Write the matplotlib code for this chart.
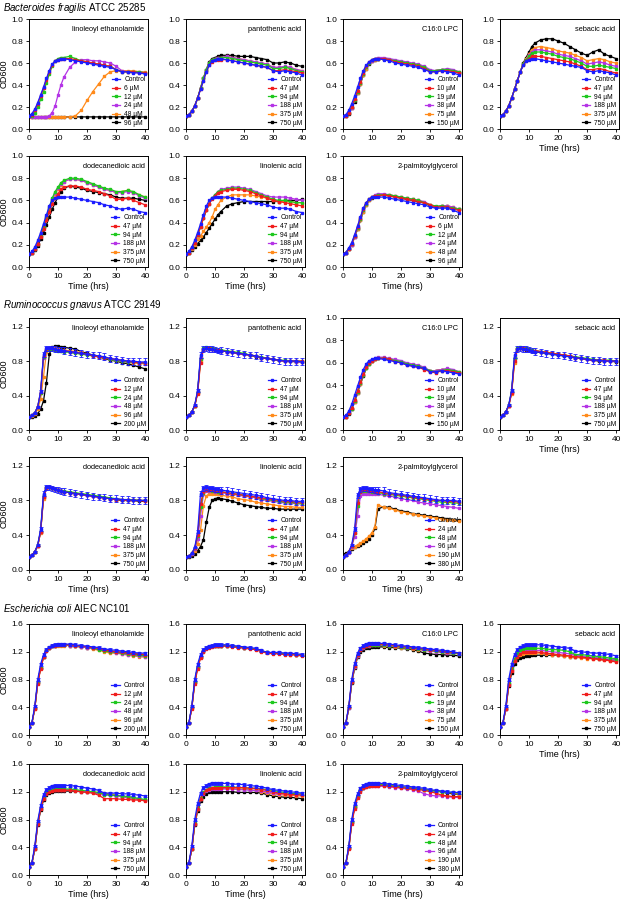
import matplotlib
matplotlib.use("Agg")
import matplotlib.pyplot as plt

plt.rcParams["font.family"] = ["Liberation Sans", "DejaVu Sans"]
plt.rcParams["mathtext.fontset"] = "custom"
plt.rcParams["mathtext.rm"] = "Liberation Sans"
plt.rcParams["mathtext.it"] = "Liberation Sans:italic"

# sampling times (hrs)
t = [0, 1, 2, 3, 4, 5, 6, 7, 8, 9, 10, 11, 12,
     14, 16, 18, 20, 22, 24, 26, 28, 30, 32, 34, 36, 38, 40]

# concentration labels
lab_lea_bf = ["Control", "6 µM", "12 µM", "24 µM", "48 µM", "96 µM"]
lab_lea = ["Control", "12 µM", "24 µM", "48 µM", "96 µM", "200 µM"]
lab_acid = ["Control", "47 µM", "94 µM", "188 µM", "375 µM", "750 µM"]
lab_lpc = ["Control", "10 µM", "19 µM", "38 µM", "75 µM", "150 µM"]
lab_pg_bf = lab_lea_bf
lab_pg = ["Control", "24 µM", "48 µM", "96 µM", "190 µM", "380 µM"]

# ---- Bacteroides fragilis ----
bf_lea = [
    [0.12, 0.14, 0.18, 0.24, 0.31, 0.38, 0.46, 0.53, 0.59, 0.62, 0.63, 0.64, 0.64,
     0.63, 0.62, 0.61, 0.60, 0.59, 0.58, 0.57, 0.56, 0.54, 0.52, 0.52, 0.51, 0.51, 0.50],
    [0.12, 0.13, 0.17, 0.23, 0.30, 0.37, 0.45, 0.52, 0.58, 0.62, 0.63, 0.64, 0.64,
     0.64, 0.63, 0.62, 0.61, 0.60, 0.59, 0.58, 0.57, 0.54, 0.52, 0.52, 0.52, 0.51, 0.51],
    [0.12, 0.12, 0.15, 0.20, 0.27, 0.34, 0.42, 0.50, 0.57, 0.62, 0.64, 0.65, 0.65,
     0.66, 0.64, 0.62, 0.61, 0.60, 0.59, 0.58, 0.57, 0.54, 0.52, 0.52, 0.52, 0.52, 0.51],
    [0.12, 0.11, 0.11, 0.11, 0.11, 0.11, 0.11, 0.12, 0.15, 0.21, 0.31, 0.40, 0.47,
     0.56, 0.61, 0.63, 0.63, 0.62, 0.62, 0.61, 0.60, 0.57, 0.53, 0.52, 0.52, 0.52, 0.51],
    [0.11, 0.11, 0.11, 0.11, 0.11, 0.11, 0.11, 0.11, 0.11, 0.11, 0.11, 0.11, 0.11,
     0.11, 0.12, 0.17, 0.26, 0.34, 0.41, 0.48, 0.52, 0.53, 0.53, 0.53, 0.53, 0.52, 0.52],
    [0.12, 0.11, 0.11, 0.11, 0.11, 0.11, 0.11, 0.11, 0.11, 0.11, 0.11, 0.11, 0.11,
     0.11, 0.11, 0.11, 0.11, 0.11, 0.11, 0.11, 0.11, 0.11, 0.11, 0.11, 0.11, 0.11, 0.11],
]
bf_pan = [
    [0.12, 0.13, 0.16, 0.21, 0.28, 0.36, 0.44, 0.52, 0.58, 0.62, 0.63, 0.64, 0.64,
     0.63, 0.62, 0.61, 0.60, 0.59, 0.58, 0.57, 0.56, 0.53, 0.52, 0.53, 0.52, 0.51, 0.49],
    [0.12, 0.13, 0.16, 0.21, 0.28, 0.36, 0.44, 0.52, 0.58, 0.61, 0.63, 0.63, 0.63,
     0.63, 0.62, 0.61, 0.60, 0.59, 0.58, 0.57, 0.56, 0.53, 0.53, 0.54, 0.53, 0.52, 0.51],
    [0.12, 0.13, 0.16, 0.21, 0.28, 0.37, 0.46, 0.54, 0.60, 0.63, 0.64, 0.64, 0.65,
     0.65, 0.64, 0.63, 0.62, 0.61, 0.60, 0.59, 0.58, 0.55, 0.55, 0.56, 0.55, 0.53, 0.52],
    [0.12, 0.13, 0.16, 0.21, 0.28, 0.37, 0.46, 0.54, 0.60, 0.63, 0.64, 0.65, 0.65,
     0.66, 0.65, 0.64, 0.63, 0.62, 0.61, 0.60, 0.59, 0.56, 0.56, 0.57, 0.56, 0.54, 0.53],
    [0.12, 0.13, 0.16, 0.21, 0.28, 0.37, 0.46, 0.54, 0.60, 0.63, 0.64, 0.65, 0.65,
     0.66, 0.65, 0.64, 0.63, 0.62, 0.61, 0.60, 0.59, 0.56, 0.56, 0.56, 0.56, 0.54, 0.53],
    [0.12, 0.13, 0.16, 0.21, 0.28, 0.37, 0.46, 0.54, 0.61, 0.64, 0.65, 0.66, 0.67,
     0.67, 0.67, 0.66, 0.66, 0.66, 0.65, 0.64, 0.63, 0.60, 0.60, 0.61, 0.60, 0.58, 0.57],
]
bf_lpc = [
    [0.12, 0.13, 0.17, 0.23, 0.30, 0.38, 0.46, 0.53, 0.58, 0.61, 0.63, 0.64, 0.64,
     0.63, 0.62, 0.60, 0.59, 0.58, 0.57, 0.56, 0.54, 0.52, 0.52, 0.53, 0.52, 0.51, 0.49],
    [0.12, 0.12, 0.15, 0.20, 0.27, 0.35, 0.43, 0.51, 0.57, 0.61, 0.63, 0.64, 0.64,
     0.64, 0.63, 0.61, 0.60, 0.59, 0.58, 0.57, 0.55, 0.52, 0.52, 0.53, 0.53, 0.52, 0.51],
    [0.12, 0.12, 0.15, 0.20, 0.26, 0.34, 0.42, 0.50, 0.56, 0.60, 0.63, 0.64, 0.64,
     0.64, 0.63, 0.62, 0.61, 0.60, 0.59, 0.58, 0.56, 0.53, 0.53, 0.54, 0.54, 0.53, 0.52],
    [0.12, 0.12, 0.15, 0.19, 0.26, 0.34, 0.42, 0.50, 0.56, 0.60, 0.62, 0.64, 0.65,
     0.65, 0.64, 0.63, 0.62, 0.61, 0.60, 0.59, 0.57, 0.54, 0.53, 0.54, 0.55, 0.54, 0.52],
    [0.12, 0.12, 0.15, 0.19, 0.26, 0.33, 0.41, 0.49, 0.55, 0.60, 0.62, 0.63, 0.64,
     0.64, 0.63, 0.62, 0.61, 0.60, 0.59, 0.58, 0.56, 0.53, 0.53, 0.54, 0.54, 0.53, 0.52],
    [0.12, 0.12, 0.14, 0.19, 0.25, 0.33, 0.41, 0.49, 0.55, 0.59, 0.62, 0.63, 0.64,
     0.64, 0.63, 0.62, 0.61, 0.60, 0.59, 0.58, 0.56, 0.53, 0.53, 0.54, 0.54, 0.53, 0.51],
]
bf_seb = [
    [0.12, 0.13, 0.16, 0.21, 0.28, 0.36, 0.44, 0.52, 0.58, 0.62, 0.63, 0.64, 0.64,
     0.63, 0.62, 0.61, 0.60, 0.59, 0.58, 0.57, 0.56, 0.53, 0.52, 0.53, 0.52, 0.51, 0.49],
    [0.12, 0.13, 0.16, 0.21, 0.28, 0.36, 0.44, 0.52, 0.58, 0.62, 0.64, 0.66, 0.66,
     0.66, 0.65, 0.64, 0.63, 0.62, 0.61, 0.59, 0.57, 0.54, 0.54, 0.55, 0.54, 0.52, 0.51],
    [0.12, 0.13, 0.16, 0.21, 0.28, 0.36, 0.44, 0.52, 0.59, 0.63, 0.66, 0.69, 0.70,
     0.70, 0.69, 0.68, 0.66, 0.65, 0.64, 0.62, 0.60, 0.57, 0.57, 0.58, 0.57, 0.56, 0.55],
    [0.12, 0.13, 0.16, 0.21, 0.28, 0.36, 0.44, 0.52, 0.59, 0.63, 0.67, 0.70, 0.72,
     0.72, 0.71, 0.70, 0.68, 0.67, 0.66, 0.64, 0.62, 0.59, 0.60, 0.61, 0.60, 0.58, 0.57],
    [0.12, 0.13, 0.16, 0.21, 0.28, 0.36, 0.44, 0.52, 0.59, 0.64, 0.68, 0.72, 0.74,
     0.75, 0.74, 0.73, 0.71, 0.70, 0.69, 0.67, 0.65, 0.62, 0.63, 0.64, 0.63, 0.61, 0.60],
    [0.12, 0.13, 0.16, 0.21, 0.28, 0.36, 0.44, 0.52, 0.60, 0.65, 0.70, 0.75, 0.78,
     0.81, 0.82, 0.82, 0.80, 0.78, 0.75, 0.72, 0.69, 0.67, 0.70, 0.72, 0.68, 0.66, 0.64],
]
bf_dod = [
    [0.12, 0.14, 0.18, 0.24, 0.31, 0.39, 0.47, 0.55, 0.60, 0.62, 0.63, 0.63, 0.63,
     0.63, 0.62, 0.61, 0.60, 0.59, 0.58, 0.56, 0.55, 0.53, 0.52, 0.53, 0.52, 0.50, 0.49],
    [0.12, 0.13, 0.16, 0.21, 0.27, 0.34, 0.42, 0.50, 0.57, 0.62, 0.66, 0.70, 0.72,
     0.73, 0.73, 0.72, 0.70, 0.69, 0.68, 0.66, 0.64, 0.61, 0.61, 0.62, 0.60, 0.58, 0.56],
    [0.12, 0.13, 0.16, 0.21, 0.28, 0.36, 0.45, 0.54, 0.62, 0.68, 0.72, 0.76, 0.78,
     0.80, 0.80, 0.79, 0.77, 0.75, 0.73, 0.71, 0.70, 0.68, 0.68, 0.69, 0.68, 0.65, 0.63],
    [0.12, 0.13, 0.16, 0.21, 0.28, 0.36, 0.45, 0.53, 0.61, 0.67, 0.71, 0.75, 0.77,
     0.79, 0.79, 0.78, 0.76, 0.74, 0.72, 0.70, 0.69, 0.67, 0.67, 0.68, 0.67, 0.64, 0.62],
    [0.12, 0.13, 0.16, 0.21, 0.28, 0.36, 0.44, 0.52, 0.60, 0.66, 0.70, 0.74, 0.77,
     0.79, 0.79, 0.78, 0.76, 0.74, 0.72, 0.70, 0.69, 0.67, 0.68, 0.69, 0.67, 0.65, 0.63],
    [0.12, 0.13, 0.15, 0.19, 0.25, 0.31, 0.38, 0.45, 0.52, 0.58, 0.63, 0.68, 0.71,
     0.73, 0.72, 0.71, 0.69, 0.68, 0.67, 0.66, 0.65, 0.63, 0.62, 0.62, 0.62, 0.61, 0.60],
]
bf_lin = [
    [0.12, 0.14, 0.18, 0.24, 0.31, 0.39, 0.47, 0.55, 0.60, 0.62, 0.63, 0.63, 0.63,
     0.63, 0.62, 0.61, 0.60, 0.59, 0.58, 0.57, 0.56, 0.54, 0.53, 0.53, 0.52, 0.50, 0.49],
    [0.12, 0.13, 0.17, 0.22, 0.29, 0.36, 0.44, 0.51, 0.57, 0.61, 0.64, 0.67, 0.68,
     0.69, 0.70, 0.70, 0.69, 0.68, 0.66, 0.64, 0.62, 0.60, 0.59, 0.58, 0.57, 0.56, 0.55],
    [0.12, 0.13, 0.17, 0.22, 0.29, 0.36, 0.44, 0.51, 0.57, 0.62, 0.65, 0.68, 0.69,
     0.70, 0.71, 0.71, 0.70, 0.69, 0.67, 0.65, 0.63, 0.61, 0.60, 0.60, 0.59, 0.58, 0.58],
    [0.12, 0.13, 0.17, 0.22, 0.29, 0.36, 0.44, 0.51, 0.57, 0.62, 0.65, 0.68, 0.70,
     0.71, 0.72, 0.72, 0.71, 0.70, 0.68, 0.66, 0.64, 0.63, 0.63, 0.63, 0.62, 0.61, 0.60],
    [0.12, 0.13, 0.16, 0.20, 0.25, 0.28, 0.32, 0.36, 0.40, 0.45, 0.52, 0.56, 0.60,
     0.63, 0.65, 0.65, 0.65, 0.65, 0.64, 0.63, 0.62, 0.60, 0.59, 0.59, 0.59, 0.58, 0.58],
    [0.12, 0.13, 0.15, 0.18, 0.21, 0.24, 0.27, 0.31, 0.35, 0.39, 0.43, 0.47, 0.50,
     0.55, 0.57, 0.58, 0.59, 0.59, 0.59, 0.59, 0.59, 0.59, 0.59, 0.60, 0.60, 0.60, 0.61],
]
bf_pg = [
    [0.12, 0.13, 0.17, 0.22, 0.29, 0.37, 0.45, 0.53, 0.58, 0.61, 0.63, 0.63, 0.63,
     0.63, 0.62, 0.61, 0.60, 0.59, 0.58, 0.57, 0.56, 0.54, 0.53, 0.53, 0.53, 0.51, 0.49],
    [0.12, 0.13, 0.16, 0.21, 0.28, 0.36, 0.44, 0.52, 0.58, 0.61, 0.63, 0.64, 0.64,
     0.65, 0.64, 0.63, 0.62, 0.61, 0.60, 0.59, 0.58, 0.56, 0.54, 0.54, 0.54, 0.52, 0.51],
    [0.12, 0.13, 0.16, 0.21, 0.28, 0.35, 0.43, 0.51, 0.57, 0.61, 0.63, 0.64, 0.65,
     0.65, 0.65, 0.64, 0.63, 0.62, 0.61, 0.60, 0.58, 0.56, 0.55, 0.55, 0.54, 0.53, 0.52],
    [0.12, 0.13, 0.16, 0.20, 0.27, 0.35, 0.43, 0.51, 0.57, 0.61, 0.63, 0.65, 0.66,
     0.66, 0.65, 0.64, 0.63, 0.62, 0.61, 0.60, 0.59, 0.56, 0.54, 0.55, 0.55, 0.54, 0.52],
    [0.12, 0.13, 0.16, 0.20, 0.27, 0.34, 0.42, 0.50, 0.56, 0.60, 0.63, 0.64, 0.65,
     0.65, 0.65, 0.64, 0.63, 0.62, 0.61, 0.60, 0.58, 0.56, 0.54, 0.55, 0.55, 0.54, 0.52],
    [0.12, 0.13, 0.16, 0.20, 0.27, 0.34, 0.42, 0.50, 0.56, 0.60, 0.62, 0.64, 0.65,
     0.65, 0.64, 0.63, 0.62, 0.61, 0.60, 0.59, 0.58, 0.55, 0.54, 0.55, 0.55, 0.53, 0.52],
]

# ---- Ruminococcus gnavus ----
rg_lea = [
    [0.15, 0.17, 0.20, 0.27, 0.45, 0.88, 0.95, 0.95, 0.95, 0.94, 0.93, 0.93, 0.92,
     0.91, 0.90, 0.89, 0.88, 0.87, 0.86, 0.85, 0.83, 0.82, 0.81, 0.80, 0.80, 0.79, 0.79],
    [0.15, 0.17, 0.20, 0.27, 0.44, 0.86, 0.94, 0.95, 0.95, 0.94, 0.93, 0.93, 0.92,
     0.91, 0.90, 0.89, 0.88, 0.86, 0.85, 0.84, 0.83, 0.82, 0.81, 0.80, 0.79, 0.78, 0.78],
    [0.15, 0.17, 0.20, 0.27, 0.43, 0.85, 0.93, 0.94, 0.94, 0.93, 0.92, 0.92, 0.91,
     0.90, 0.89, 0.88, 0.87, 0.86, 0.85, 0.84, 0.82, 0.81, 0.80, 0.79, 0.79, 0.78, 0.78],
    [0.15, 0.17, 0.20, 0.27, 0.43, 0.84, 0.93, 0.94, 0.94, 0.93, 0.93, 0.92, 0.92,
     0.91, 0.90, 0.89, 0.88, 0.86, 0.85, 0.84, 0.82, 0.81, 0.80, 0.79, 0.79, 0.78, 0.77],
    [0.15, 0.16, 0.19, 0.24, 0.36, 0.62, 0.90, 0.95, 0.95, 0.95, 0.94, 0.93, 0.93,
     0.92, 0.91, 0.90, 0.88, 0.87, 0.86, 0.84, 0.82, 0.81, 0.80, 0.79, 0.78, 0.77, 0.77],
    [0.15, 0.15, 0.16, 0.19, 0.24, 0.34, 0.55, 0.88, 0.96, 0.97, 0.97, 0.96, 0.96,
     0.95, 0.94, 0.91, 0.89, 0.87, 0.85, 0.83, 0.81, 0.80, 0.78, 0.77, 0.75, 0.73, 0.71],
]
rg_pan = [
    [0.15, 0.17, 0.21, 0.29, 0.46, 0.87, 0.94, 0.95, 0.94, 0.94, 0.93, 0.92, 0.92,
     0.91, 0.90, 0.89, 0.88, 0.87, 0.86, 0.84, 0.83, 0.82, 0.81, 0.80, 0.80, 0.80, 0.79],
    [0.15, 0.17, 0.21, 0.28, 0.42, 0.78, 0.93, 0.95, 0.95, 0.94, 0.93, 0.93, 0.92,
     0.91, 0.90, 0.89, 0.88, 0.87, 0.86, 0.84, 0.83, 0.82, 0.81, 0.80, 0.80, 0.80, 0.80],
    [0.15, 0.17, 0.21, 0.28, 0.44, 0.82, 0.95, 0.96, 0.95, 0.95, 0.94, 0.93, 0.93,
     0.92, 0.91, 0.90, 0.89, 0.87, 0.86, 0.85, 0.83, 0.82, 0.81, 0.81, 0.80, 0.80, 0.80],
    [0.15, 0.17, 0.21, 0.28, 0.44, 0.83, 0.94, 0.95, 0.95, 0.94, 0.93, 0.93, 0.92,
     0.91, 0.90, 0.89, 0.88, 0.87, 0.86, 0.84, 0.83, 0.82, 0.81, 0.80, 0.80, 0.79, 0.79],
    [0.15, 0.17, 0.21, 0.28, 0.43, 0.80, 0.94, 0.95, 0.95, 0.94, 0.93, 0.93, 0.92,
     0.91, 0.90, 0.89, 0.88, 0.87, 0.86, 0.84, 0.83, 0.82, 0.81, 0.80, 0.80, 0.80, 0.79],
    [0.15, 0.17, 0.21, 0.28, 0.44, 0.84, 0.94, 0.95, 0.94, 0.94, 0.93, 0.92, 0.92,
     0.91, 0.90, 0.89, 0.88, 0.87, 0.85, 0.84, 0.83, 0.82, 0.81, 0.80, 0.80, 0.79, 0.79],
]
rg_lpc = [
    [0.12, 0.13, 0.17, 0.23, 0.31, 0.39, 0.47, 0.54, 0.59, 0.62, 0.63, 0.64, 0.64,
     0.63, 0.62, 0.61, 0.60, 0.58, 0.57, 0.56, 0.55, 0.52, 0.52, 0.53, 0.52, 0.51, 0.50],
    [0.12, 0.12, 0.15, 0.20, 0.27, 0.35, 0.43, 0.50, 0.56, 0.60, 0.62, 0.63, 0.64,
     0.64, 0.63, 0.61, 0.60, 0.58, 0.57, 0.56, 0.54, 0.52, 0.51, 0.53, 0.53, 0.52, 0.51],
    [0.12, 0.12, 0.15, 0.19, 0.26, 0.34, 0.42, 0.49, 0.55, 0.59, 0.62, 0.63, 0.64,
     0.64, 0.63, 0.62, 0.61, 0.59, 0.58, 0.57, 0.55, 0.53, 0.52, 0.53, 0.54, 0.53, 0.52],
    [0.12, 0.12, 0.15, 0.19, 0.26, 0.34, 0.42, 0.49, 0.56, 0.60, 0.62, 0.64, 0.65,
     0.65, 0.64, 0.63, 0.62, 0.60, 0.59, 0.58, 0.56, 0.53, 0.53, 0.54, 0.55, 0.54, 0.52],
    [0.12, 0.12, 0.15, 0.19, 0.25, 0.33, 0.41, 0.49, 0.55, 0.59, 0.62, 0.63, 0.64,
     0.64, 0.63, 0.62, 0.61, 0.59, 0.58, 0.57, 0.55, 0.53, 0.53, 0.54, 0.54, 0.53, 0.52],
    [0.12, 0.12, 0.14, 0.19, 0.25, 0.33, 0.41, 0.48, 0.55, 0.59, 0.62, 0.63, 0.64,
     0.64, 0.63, 0.62, 0.61, 0.59, 0.58, 0.57, 0.55, 0.53, 0.53, 0.54, 0.54, 0.53, 0.51],
]
rg_seb = [
    [0.15, 0.17, 0.21, 0.29, 0.46, 0.87, 0.94, 0.95, 0.94, 0.94, 0.93, 0.92, 0.91,
     0.90, 0.89, 0.88, 0.87, 0.86, 0.85, 0.84, 0.83, 0.82, 0.81, 0.81, 0.80, 0.80, 0.80],
    [0.15, 0.17, 0.21, 0.28, 0.43, 0.80, 0.94, 0.95, 0.95, 0.94, 0.93, 0.92, 0.92,
     0.91, 0.90, 0.89, 0.88, 0.87, 0.86, 0.84, 0.83, 0.82, 0.81, 0.81, 0.81, 0.80, 0.80],
    [0.15, 0.17, 0.21, 0.29, 0.45, 0.84, 0.95, 0.96, 0.95, 0.95, 0.94, 0.93, 0.92,
     0.91, 0.90, 0.89, 0.88, 0.87, 0.86, 0.85, 0.84, 0.83, 0.82, 0.81, 0.81, 0.81, 0.80],
    [0.15, 0.17, 0.21, 0.28, 0.44, 0.83, 0.94, 0.95, 0.95, 0.94, 0.93, 0.92, 0.92,
     0.91, 0.90, 0.89, 0.88, 0.87, 0.86, 0.84, 0.83, 0.82, 0.81, 0.81, 0.80, 0.80, 0.80],
    [0.15, 0.17, 0.21, 0.28, 0.42, 0.78, 0.93, 0.95, 0.94, 0.94, 0.93, 0.92, 0.92,
     0.91, 0.90, 0.89, 0.88, 0.87, 0.86, 0.84, 0.83, 0.82, 0.81, 0.81, 0.80, 0.80, 0.80],
    [0.15, 0.17, 0.21, 0.28, 0.44, 0.83, 0.94, 0.95, 0.94, 0.93, 0.93, 0.92, 0.91,
     0.90, 0.89, 0.88, 0.87, 0.86, 0.85, 0.84, 0.83, 0.82, 0.81, 0.80, 0.80, 0.80, 0.79],
]
rg_dod = [
    [0.15, 0.17, 0.21, 0.29, 0.47, 0.88, 0.95, 0.95, 0.94, 0.93, 0.92, 0.91, 0.90,
     0.89, 0.88, 0.87, 0.86, 0.85, 0.84, 0.83, 0.82, 0.82, 0.81, 0.81, 0.80, 0.80, 0.80],
    [0.15, 0.17, 0.21, 0.28, 0.44, 0.84, 0.94, 0.95, 0.94, 0.93, 0.92, 0.91, 0.90,
     0.89, 0.88, 0.87, 0.86, 0.85, 0.84, 0.83, 0.82, 0.81, 0.81, 0.80, 0.80, 0.80, 0.79],
    [0.15, 0.17, 0.21, 0.29, 0.45, 0.86, 0.95, 0.95, 0.94, 0.93, 0.92, 0.91, 0.91,
     0.90, 0.89, 0.88, 0.87, 0.86, 0.85, 0.84, 0.83, 0.82, 0.81, 0.81, 0.81, 0.80, 0.80],
    [0.15, 0.17, 0.21, 0.28, 0.44, 0.85, 0.94, 0.95, 0.94, 0.93, 0.92, 0.91, 0.90,
     0.89, 0.88, 0.87, 0.86, 0.85, 0.84, 0.83, 0.82, 0.82, 0.81, 0.81, 0.80, 0.80, 0.80],
    [0.15, 0.17, 0.21, 0.28, 0.43, 0.82, 0.94, 0.95, 0.94, 0.93, 0.92, 0.91, 0.90,
     0.89, 0.88, 0.87, 0.86, 0.85, 0.84, 0.83, 0.82, 0.81, 0.81, 0.80, 0.80, 0.80, 0.80],
    [0.15, 0.17, 0.21, 0.28, 0.44, 0.84, 0.94, 0.95, 0.94, 0.93, 0.92, 0.91, 0.90,
     0.89, 0.88, 0.87, 0.86, 0.85, 0.84, 0.83, 0.82, 0.81, 0.80, 0.80, 0.80, 0.79, 0.79],
]
rg_lin = [
    [0.15, 0.16, 0.19, 0.26, 0.44, 0.88, 0.94, 0.95, 0.94, 0.94, 0.93, 0.93, 0.92,
     0.91, 0.90, 0.89, 0.88, 0.87, 0.86, 0.85, 0.83, 0.82, 0.81, 0.80, 0.80, 0.79, 0.79],
    [0.15, 0.16, 0.19, 0.25, 0.40, 0.76, 0.90, 0.92, 0.92, 0.92, 0.91, 0.91, 0.90,
     0.89, 0.88, 0.87, 0.86, 0.85, 0.84, 0.83, 0.82, 0.81, 0.80, 0.79, 0.79, 0.78, 0.78],
    [0.15, 0.16, 0.19, 0.25, 0.39, 0.72, 0.89, 0.92, 0.92, 0.91, 0.91, 0.90, 0.90,
     0.89, 0.88, 0.87, 0.86, 0.85, 0.84, 0.82, 0.81, 0.80, 0.79, 0.78, 0.78, 0.77, 0.77],
    [0.15, 0.16, 0.18, 0.24, 0.36, 0.62, 0.87, 0.91, 0.91, 0.91, 0.90, 0.90, 0.89,
     0.88, 0.87, 0.86, 0.85, 0.84, 0.83, 0.81, 0.80, 0.79, 0.78, 0.77, 0.77, 0.76, 0.76],
    [0.15, 0.16, 0.18, 0.22, 0.30, 0.46, 0.74, 0.85, 0.88, 0.88, 0.87, 0.87, 0.86,
     0.85, 0.84, 0.82, 0.81, 0.80, 0.78, 0.77, 0.76, 0.75, 0.74, 0.73, 0.73, 0.72, 0.72],
    [0.15, 0.15, 0.16, 0.18, 0.22, 0.27, 0.35, 0.55, 0.72, 0.80, 0.82, 0.83, 0.82,
     0.81, 0.79, 0.77, 0.75, 0.74, 0.73, 0.72, 0.71, 0.71, 0.70, 0.70, 0.70, 0.70, 0.70],
]
rg_pg = [
    [0.15, 0.17, 0.21, 0.29, 0.47, 0.86, 0.93, 0.94, 0.94, 0.93, 0.93, 0.92, 0.92,
     0.91, 0.89, 0.88, 0.87, 0.86, 0.85, 0.84, 0.83, 0.82, 0.81, 0.80, 0.80, 0.80, 0.79],
    [0.15, 0.17, 0.21, 0.28, 0.43, 0.77, 0.90, 0.92, 0.92, 0.91, 0.91, 0.90, 0.90,
     0.89, 0.88, 0.87, 0.86, 0.85, 0.84, 0.83, 0.82, 0.81, 0.80, 0.80, 0.79, 0.79, 0.78],
    [0.15, 0.17, 0.21, 0.28, 0.42, 0.74, 0.90, 0.91, 0.91, 0.91, 0.90, 0.90, 0.89,
     0.88, 0.87, 0.86, 0.85, 0.84, 0.83, 0.82, 0.81, 0.80, 0.79, 0.78, 0.78, 0.77, 0.77],
    [0.15, 0.17, 0.20, 0.27, 0.38, 0.62, 0.85, 0.88, 0.88, 0.88, 0.88, 0.87, 0.87,
     0.86, 0.85, 0.84, 0.82, 0.81, 0.80, 0.78, 0.77, 0.76, 0.75, 0.74, 0.73, 0.72, 0.71],
    [0.15, 0.17, 0.22, 0.25, 0.27, 0.29, 0.31, 0.33, 0.36, 0.39, 0.43, 0.50, 0.75,
     0.72, 0.71, 0.69, 0.67, 0.66, 0.64, 0.63, 0.62, 0.61, 0.60, 0.59, 0.58, 0.57, 0.56],
    [0.18, 0.19, 0.21, 0.24, 0.26, 0.28, 0.29, 0.31, 0.33, 0.36, 0.40, 0.48, 0.70,
     0.73, 0.72, 0.70, 0.68, 0.67, 0.65, 0.64, 0.63, 0.62, 0.61, 0.60, 0.59, 0.58, 0.57],
]
# control SD for R. gnavus
rg_err = [0.00, 0.01, 0.01, 0.01, 0.02, 0.03, 0.03, 0.03, 0.03, 0.03, 0.03, 0.03, 0.04,
          0.04, 0.04, 0.04, 0.04, 0.04, 0.04, 0.04, 0.04, 0.04, 0.04, 0.04, 0.04, 0.04, 0.04]

# ---- Escherichia coli ----
ec_lea = [
    [0.12, 0.18, 0.42, 0.80, 1.02, 1.16, 1.23, 1.27, 1.29, 1.30, 1.31, 1.31, 1.31,
     1.31, 1.30, 1.29, 1.28, 1.27, 1.26, 1.24, 1.23, 1.22, 1.21, 1.20, 1.19, 1.18, 1.18],
    [0.12, 0.17, 0.38, 0.74, 0.95, 1.12, 1.21, 1.26, 1.28, 1.29, 1.30, 1.30, 1.30,
     1.30, 1.29, 1.28, 1.27, 1.26, 1.25, 1.23, 1.21, 1.20, 1.19, 1.18, 1.17, 1.17, 1.16],
    [0.12, 0.17, 0.39, 0.76, 0.97, 1.13, 1.22, 1.26, 1.28, 1.29, 1.30, 1.30, 1.30,
     1.30, 1.29, 1.28, 1.27, 1.25, 1.23, 1.21, 1.20, 1.19, 1.18, 1.17, 1.16, 1.15, 1.14],
    [0.12, 0.17, 0.39, 0.76, 0.97, 1.13, 1.22, 1.26, 1.28, 1.29, 1.30, 1.30, 1.30,
     1.29, 1.28, 1.27, 1.26, 1.25, 1.24, 1.22, 1.20, 1.18, 1.17, 1.16, 1.15, 1.14, 1.13],
    [0.12, 0.17, 0.38, 0.75, 0.96, 1.12, 1.21, 1.26, 1.28, 1.29, 1.29, 1.29, 1.29,
     1.29, 1.28, 1.27, 1.26, 1.24, 1.22, 1.20, 1.18, 1.18, 1.17, 1.15, 1.14, 1.13, 1.12],
    [0.12, 0.17, 0.39, 0.76, 0.97, 1.13, 1.22, 1.26, 1.28, 1.29, 1.30, 1.30, 1.30,
     1.29, 1.28, 1.27, 1.26, 1.25, 1.24, 1.22, 1.21, 1.20, 1.19, 1.18, 1.17, 1.16, 1.15],
]
ec_pan = [
    [0.12, 0.18, 0.42, 0.80, 1.02, 1.16, 1.23, 1.26, 1.28, 1.29, 1.30, 1.30, 1.30,
     1.30, 1.29, 1.28, 1.27, 1.26, 1.25, 1.22, 1.19, 1.19, 1.19, 1.18, 1.18, 1.17, 1.16],
    [0.12, 0.17, 0.38, 0.74, 0.95, 1.11, 1.19, 1.24, 1.26, 1.27, 1.28, 1.28, 1.28,
     1.28, 1.27, 1.26, 1.25, 1.24, 1.23, 1.20, 1.18, 1.17, 1.17, 1.16, 1.16, 1.15, 1.14],
    [0.12, 0.17, 0.40, 0.77, 0.98, 1.13, 1.21, 1.25, 1.27, 1.28, 1.29, 1.29, 1.29,
     1.29, 1.28, 1.27, 1.26, 1.25, 1.24, 1.21, 1.19, 1.18, 1.18, 1.17, 1.17, 1.16, 1.15],
    [0.12, 0.17, 0.40, 0.77, 0.98, 1.13, 1.21, 1.25, 1.27, 1.28, 1.29, 1.29, 1.29,
     1.29, 1.28, 1.27, 1.26, 1.25, 1.24, 1.21, 1.19, 1.18, 1.18, 1.17, 1.17, 1.16, 1.16],
    [0.12, 0.17, 0.39, 0.76, 0.97, 1.12, 1.20, 1.25, 1.27, 1.28, 1.29, 1.29, 1.29,
     1.29, 1.28, 1.27, 1.26, 1.25, 1.24, 1.21, 1.18, 1.18, 1.18, 1.17, 1.16, 1.16, 1.15],
    [0.12, 0.17, 0.40, 0.77, 0.98, 1.13, 1.21, 1.25, 1.27, 1.28, 1.29, 1.29, 1.29,
     1.29, 1.28, 1.27, 1.26, 1.25, 1.24, 1.21, 1.19, 1.18, 1.18, 1.17, 1.17, 1.16, 1.16],
]
ec_lpc = [
    [0.12, 0.18, 0.42, 0.80, 1.03, 1.18, 1.25, 1.29, 1.31, 1.32, 1.32, 1.32, 1.32,
     1.32, 1.31, 1.30, 1.29, 1.28, 1.27, 1.26, 1.25, 1.24, 1.23, 1.22, 1.21, 1.20, 1.18],
    [0.12, 0.17, 0.40, 0.77, 0.99, 1.15, 1.23, 1.27, 1.29, 1.30, 1.31, 1.31, 1.31,
     1.31, 1.30, 1.29, 1.28, 1.27, 1.26, 1.25, 1.24, 1.23, 1.22, 1.21, 1.20, 1.19, 1.18],
    [0.12, 0.17, 0.40, 0.77, 0.99, 1.15, 1.23, 1.27, 1.29, 1.30, 1.30, 1.30, 1.30,
     1.30, 1.29, 1.28, 1.27, 1.26, 1.25, 1.24, 1.23, 1.22, 1.21, 1.20, 1.19, 1.18, 1.17],
    [0.12, 0.17, 0.39, 0.76, 0.98, 1.14, 1.22, 1.26, 1.28, 1.29, 1.30, 1.30, 1.30,
     1.30, 1.29, 1.28, 1.27, 1.26, 1.25, 1.24, 1.22, 1.21, 1.20, 1.19, 1.18, 1.18, 1.17],
    [0.12, 0.17, 0.40, 0.76, 0.98, 1.14, 1.22, 1.26, 1.28, 1.29, 1.30, 1.30, 1.30,
     1.29, 1.28, 1.27, 1.26, 1.25, 1.24, 1.23, 1.22, 1.21, 1.20, 1.19, 1.18, 1.18, 1.17],
    [0.12, 0.17, 0.39, 0.75, 0.96, 1.12, 1.19, 1.23, 1.25, 1.26, 1.27, 1.27, 1.27,
     1.27, 1.26, 1.26, 1.25, 1.24, 1.23, 1.21, 1.18, 1.17, 1.16, 1.16, 1.15, 1.15, 1.14],
]
ec_seb = [
    [0.12, 0.18, 0.42, 0.80, 1.02, 1.16, 1.23, 1.27, 1.29, 1.30, 1.30, 1.30, 1.30,
     1.30, 1.29, 1.28, 1.27, 1.26, 1.25, 1.21, 1.20, 1.19, 1.18, 1.18, 1.17, 1.16, 1.14],
    [0.12, 0.17, 0.38, 0.72, 0.92, 1.06, 1.13, 1.17, 1.19, 1.20, 1.20, 1.20, 1.20,
     1.19, 1.18, 1.17, 1.16, 1.15, 1.14, 1.13, 1.12, 1.11, 1.10, 1.09, 1.08, 1.07, 1.05],
    [0.12, 0.17, 0.39, 0.75, 0.96, 1.10, 1.18, 1.22, 1.24, 1.25, 1.25, 1.25, 1.25,
     1.25, 1.24, 1.23, 1.23, 1.22, 1.20, 1.16, 1.16, 1.15, 1.14, 1.13, 1.12, 1.11, 1.10],
    [0.12, 0.17, 0.38, 0.74, 0.94, 1.08, 1.16, 1.20, 1.22, 1.22, 1.22, 1.22, 1.22,
     1.22, 1.21, 1.20, 1.19, 1.18, 1.17, 1.15, 1.14, 1.13, 1.12, 1.11, 1.10, 1.09, 1.08],
    [0.12, 0.17, 0.38, 0.73, 0.93, 1.06, 1.13, 1.16, 1.17, 1.18, 1.18, 1.18, 1.18,
     1.18, 1.17, 1.16, 1.15, 1.14, 1.13, 1.12, 1.11, 1.10, 1.10, 1.09, 1.08, 1.07, 1.06],
    [0.12, 0.17, 0.37, 0.70, 0.89, 1.02, 1.08, 1.11, 1.13, 1.14, 1.14, 1.15, 1.15,
     1.15, 1.15, 1.15, 1.15, 1.14, 1.13, 1.12, 1.12, 1.12, 1.11, 1.10, 1.09, 1.08, 1.08],
]
ec_dod = [
    [0.12, 0.18, 0.42, 0.78, 1.00, 1.16, 1.23, 1.26, 1.28, 1.29, 1.29, 1.29, 1.29,
     1.29, 1.28, 1.27, 1.25, 1.24, 1.22, 1.18, 1.18, 1.18, 1.17, 1.17, 1.16, 1.15, 1.14],
    [0.12, 0.17, 0.38, 0.73, 0.95, 1.10, 1.17, 1.20, 1.21, 1.22, 1.22, 1.22, 1.22,
     1.22, 1.21, 1.20, 1.19, 1.18, 1.15, 1.10, 1.10, 1.10, 1.09, 1.09, 1.08, 1.08, 1.07],
    [0.12, 0.17, 0.39, 0.75, 0.97, 1.12, 1.19, 1.22, 1.23, 1.24, 1.24, 1.24, 1.24,
     1.24, 1.23, 1.22, 1.21, 1.20, 1.19, 1.16, 1.15, 1.15, 1.14, 1.13, 1.12, 1.10, 1.09],
    [0.12, 0.17, 0.39, 0.74, 0.96, 1.11, 1.18, 1.21, 1.22, 1.23, 1.23, 1.23, 1.23,
     1.23, 1.22, 1.21, 1.20, 1.19, 1.18, 1.16, 1.15, 1.14, 1.13, 1.12, 1.11, 1.09, 1.08],
    [0.12, 0.17, 0.38, 0.74, 0.96, 1.11, 1.18, 1.21, 1.22, 1.23, 1.23, 1.23, 1.23,
     1.23, 1.22, 1.21, 1.20, 1.19, 1.19, 1.18, 1.17, 1.15, 1.13, 1.12, 1.11, 1.09, 1.08],
    [0.12, 0.17, 0.37, 0.72, 0.93, 1.08, 1.15, 1.18, 1.20, 1.21, 1.21, 1.21, 1.21,
     1.21, 1.21, 1.20, 1.20, 1.19, 1.18, 1.17, 1.16, 1.14, 1.13, 1.12, 1.11, 1.09, 1.08],
]
ec_lin = [
    [0.12, 0.18, 0.42, 0.80, 1.03, 1.18, 1.26, 1.29, 1.31, 1.32, 1.32, 1.32, 1.32,
     1.32, 1.31, 1.31, 1.30, 1.29, 1.28, 1.27, 1.25, 1.23, 1.22, 1.21, 1.20, 1.19, 1.18],
    [0.12, 0.17, 0.37, 0.74, 0.95, 1.10, 1.18, 1.22, 1.24, 1.25, 1.26, 1.26, 1.26,
     1.26, 1.26, 1.26, 1.26, 1.25, 1.25, 1.23, 1.22, 1.20, 1.18, 1.17, 1.16, 1.16, 1.15],
    [0.12, 0.17, 0.38, 0.75, 0.96, 1.11, 1.19, 1.23, 1.25, 1.26, 1.27, 1.27, 1.27,
     1.27, 1.27, 1.26, 1.26, 1.25, 1.25, 1.24, 1.23, 1.22, 1.20, 1.19, 1.18, 1.17, 1.17],
    [0.12, 0.17, 0.38, 0.74, 0.95, 1.10, 1.17, 1.21, 1.23, 1.24, 1.24, 1.24, 1.24,
     1.24, 1.24, 1.23, 1.23, 1.22, 1.22, 1.21, 1.20, 1.18, 1.17, 1.17, 1.16, 1.16, 1.16],
    [0.12, 0.17, 0.38, 0.74, 0.95, 1.10, 1.18, 1.22, 1.24, 1.25, 1.25, 1.25, 1.25,
     1.25, 1.25, 1.24, 1.24, 1.23, 1.22, 1.20, 1.18, 1.17, 1.16, 1.15, 1.15, 1.14, 1.14],
    [0.12, 0.17, 0.37, 0.72, 0.92, 1.06, 1.13, 1.17, 1.19, 1.20, 1.20, 1.20, 1.20,
     1.20, 1.20, 1.19, 1.19, 1.19, 1.19, 1.18, 1.16, 1.14, 1.13, 1.12, 1.12, 1.11, 1.10],
]
ec_pg = [
    [0.12, 0.18, 0.42, 0.80, 1.03, 1.17, 1.25, 1.29, 1.31, 1.32, 1.32, 1.32, 1.32,
     1.32, 1.31, 1.30, 1.29, 1.28, 1.27, 1.26, 1.25, 1.23, 1.22, 1.21, 1.20, 1.19, 1.19],
    [0.12, 0.17, 0.37, 0.74, 0.95, 1.11, 1.20, 1.25, 1.27, 1.28, 1.29, 1.29, 1.29,
     1.29, 1.28, 1.27, 1.26, 1.25, 1.24, 1.23, 1.22, 1.20, 1.18, 1.15, 1.14, 1.13, 1.13],
    [0.12, 0.17, 0.39, 0.77, 0.99, 1.14, 1.22, 1.26, 1.28, 1.29, 1.30, 1.30, 1.30,
     1.30, 1.29, 1.28, 1.27, 1.26, 1.25, 1.24, 1.23, 1.22, 1.21, 1.20, 1.19, 1.19, 1.18],
    [0.12, 0.17, 0.39, 0.76, 0.98, 1.13, 1.21, 1.25, 1.27, 1.28, 1.28, 1.28, 1.28,
     1.28, 1.27, 1.26, 1.25, 1.24, 1.23, 1.21, 1.17, 1.15, 1.14, 1.14, 1.13, 1.12, 1.12],
    [0.12, 0.17, 0.39, 0.76, 0.98, 1.14, 1.22, 1.26, 1.28, 1.29, 1.30, 1.30, 1.30,
     1.30, 1.29, 1.28, 1.27, 1.26, 1.25, 1.24, 1.23, 1.22, 1.21, 1.20, 1.19, 1.18, 1.16],
    [0.12, 0.17, 0.39, 0.76, 0.98, 1.14, 1.22, 1.26, 1.28, 1.29, 1.30, 1.30, 1.30,
     1.30, 1.29, 1.28, 1.27, 1.26, 1.25, 1.24, 1.23, 1.22, 1.21, 1.20, 1.18, 1.17, 1.16],
]
ec_err = [0.00, 0.01, 0.01, 0.02, 0.02, 0.02, 0.02, 0.02, 0.02, 0.02, 0.02, 0.02, 0.02,
          0.02, 0.02, 0.02, 0.02, 0.02, 0.02, 0.02, 0.02, 0.02, 0.02, 0.02, 0.02, 0.02, 0.02]

titles = ["linoleoyl ethanolamide", "pantothenic acid", "C16:0 LPC", "sebacic acid",
          "dodecanedioic acid", "linolenic acid", "2-palmitoylglycerol"]

sections = [
    ("$\\it{Bacteroides\\ fragilis}$ ATCC 25285",
     [bf_lea, bf_pan, bf_lpc, bf_seb, bf_dod, bf_lin, bf_pg],
     [lab_lea_bf, lab_acid, lab_lpc, lab_acid, lab_acid, lab_acid, lab_pg_bf],
     None, [1.0] * 7),
    ("$\\it{Ruminococcus\\ gnavus}$ ATCC 29149",
     [rg_lea, rg_pan, rg_lpc, rg_seb, rg_dod, rg_lin, rg_pg],
     [lab_lea, lab_acid, lab_lpc, lab_acid, lab_acid, lab_acid, lab_pg],
     rg_err, [1.3, 1.3, 1.0, 1.3, 1.3, 1.3, 1.3]),
    ("$\\it{Escherichia\\ coli}$ AIEC NC101",
     [ec_lea, ec_pan, ec_lpc, ec_seb, ec_dod, ec_lin, ec_pg],
     [lab_lea, lab_acid, lab_lpc, lab_acid, lab_acid, lab_acid, lab_pg],
     ec_err, [1.6] * 7),
]

colors = ["#1c1cff", "#f01c1c", "#1ec81e", "#b433e6", "#ff8a1a", "#000000"]

W, H = 623, 900
fig = plt.figure(figsize=(W / 100, H / 100), dpi=100)

col_x = [29, 186, 343, 500]
ax_w = 119
row_y = [[(19, 129), (156, 267)], [(318, 430), (457, 570)], [(624, 735), (764, 875)]]
title_y = [8, 305, 608]

for s, (stitle, panels, labels, err, ymaxes) in enumerate(sections):
    fig.text(3 / W, 1 - title_y[s] / H, stitle, fontsize=7, va="center", ha="left")
    for p in range(7):
        row, col = divmod(p, 4)
        top, bot = row_y[s][row]
        ax = fig.add_axes([col_x[col] / W, 1 - bot / H, ax_w / W, (bot - top) / H])
        data = panels[p]
        handles = [None] * 6
        for i in reversed(range(6)):
            if i == 0 and err is not None and ymaxes[p] > 1.0:
                eb = ax.errorbar(t, data[i], yerr=err, color=colors[i], lw=0.9,
                                 marker="s", ms=1.6, elinewidth=0.6, capsize=1.2,
                                 capthick=0.6, zorder=3)
                handles[i] = eb.lines[0]
            else:
                ln, = ax.plot(t, data[i], color=colors[i], lw=0.9, marker="s", ms=1.6,
                              zorder=2 if i else 3)
                handles[i] = ln
        ymax = ymaxes[p]
        ax.set_xlim(0, 41)
        ax.set_ylim(0, ymax)
        ax.set_xticks([0, 10, 20, 30, 40])
        if ymax == 1.0:
            ax.set_yticks([0, 0.2, 0.4, 0.6, 0.8, 1.0])
        elif ymax == 1.3:
            ax.set_yticks([0, 0.4, 0.8, 1.2])
        else:
            ax.set_yticks([0, 0.4, 0.8, 1.2, 1.6])
        ax.set_yticklabels(["%.1f" % v for v in ax.get_yticks()])
        ax.tick_params(labelsize=6, length=2.5, width=0.6, pad=1.5)
        for sp in ax.spines.values():
            sp.set_linewidth(0.7)
        ax.text(0.97, 0.94, titles[p], transform=ax.transAxes, ha="right", va="top",
                fontsize=5.3)
        ax.legend(handles, labels[p], loc="lower right", fontsize=4.8, frameon=False,
                  handlelength=1.3, handletextpad=0.6, labelspacing=0.25,
                  borderpad=0.15, borderaxespad=0.2)
        if col == 0:
            ax.set_ylabel("OD600", fontsize=6.5, labelpad=2)
        if row == 1 or col == 3:
            ax.set_xlabel("Time (hrs)", fontsize=6.5, labelpad=2)

fig.savefig("out.png", dpi=100)
